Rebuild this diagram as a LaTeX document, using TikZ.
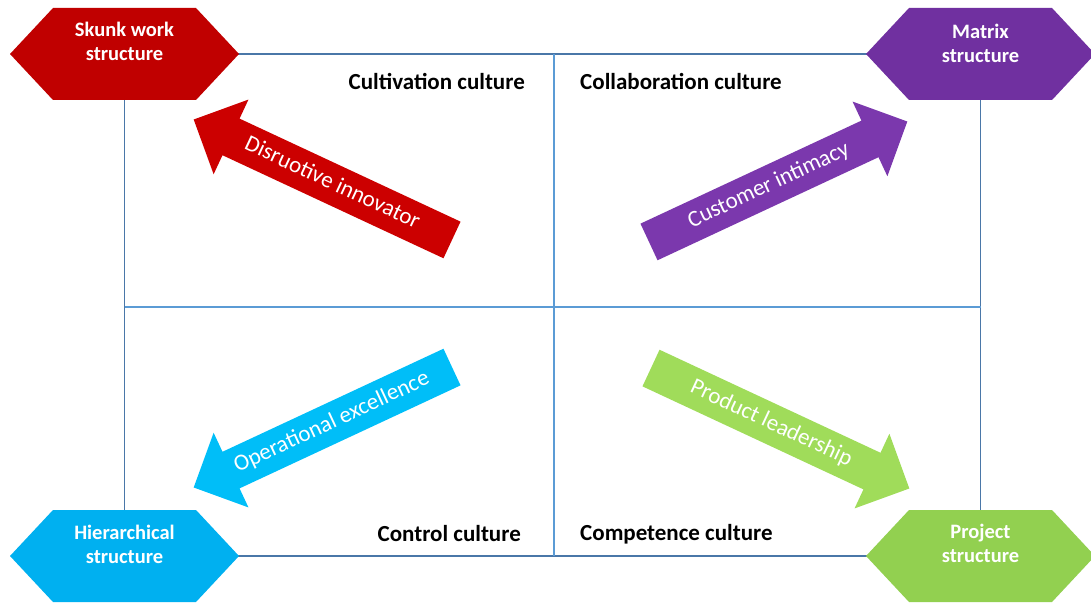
\documentclass[tikz,border=0pt]{standalone}
\usepackage{fontspec}
\setmainfont{Carlito}
\usetikzlibrary{shapes.arrows,backgrounds}
\definecolor{skunkred}{HTML}{C00000}
\definecolor{matrixpurple}{HTML}{7030A0}
\definecolor{hierblue}{HTML}{00B0F0}
\definecolor{projgreen}{HTML}{92D050}
\definecolor{redarrow}{HTML}{CC0000}
\definecolor{purplearrow}{HTML}{7B38AD}
\definecolor{bluearrow}{HTML}{00BEF8}
\definecolor{greenarrow}{HTML}{A0DC5A}
\definecolor{outerline}{HTML}{4A77A8}
\definecolor{innerline}{HTML}{5B9BD5}
\tikzset{
  hexlabel/.style={text=white,align=center,font=\bfseries\fontsize{20.5}{24}\selectfont},
  culture/.style={inner sep=0pt,font=\bfseries\fontsize{23}{26}\selectfont},
  fatarrow/.style={single arrow,fill=#1,text=white,font=\fontsize{23}{26}\selectfont,
    minimum height=285pt,single arrow head extend=21pt,
    text height=16pt,text depth=5pt,inner ysep=9.5pt,inner xsep=2pt},
}
\newcommand{\hexfill}[2]{\fill[#1] ([xshift=-114.5pt]#2) -- ++(43,46) -- ++(143,0)
  -- ++(43,-46) -- ++(-43,-46) -- ++(-143,0) -- cycle;}
\begin{document}
\begin{tikzpicture}[x=1pt,y=1pt]
\useasboundingbox (0,0) rectangle (1091,603);
% corners of the grid
\coordinate (skunk) at (124.5,549);
\coordinate (matrix) at (980.5,549);
\coordinate (hier) at (124.5,47);
\coordinate (project) at (980.5,47);
\coordinate (topmid) at (554,549);
\coordinate (botmid) at (554,47);
\coordinate (leftmid) at (124.5,296);
\coordinate (rightmid) at (980.5,296);
% grid
\draw[outerline,line width=1.3pt] (skunk) -- (matrix) -- (project) -- (hier) -- cycle;
\draw[innerline,line width=1.3pt] (topmid) -- (botmid);
\draw[innerline,line width=1.3pt] (leftmid) -- (rightmid);
% hexagons
\hexfill{skunkred}{skunk}
\hexfill{matrixpurple}{matrix}
\hexfill{hierblue}{hier}
\hexfill{projgreen}{project}
\node[hexlabel] (skunktxt) at ([yshift=13pt]skunk) {Skunk work\\structure};
\node[hexlabel] (matrixtxt) at ([yshift=11pt]matrix) {Matrix\\structure};
\node[hexlabel] (hiertxt) at ([yshift=12pt]hier) {Hierarchical\\structure};
\node[hexlabel] (projecttxt) at ([yshift=13pt]project) {Project\\structure};
% cultures
\node[culture,anchor=east] (cultivation) at (525,521) {Cultivation culture};
\node[culture,anchor=west] (collaboration) at (580,521) {Collaboration culture};
\node[culture,anchor=east] (control) at (521,69) {Control culture};
\node[culture,anchor=west] (competence) at (580,69) {Competence culture};
% strategies
\node[fatarrow=redarrow,shape border rotate=180,rotate=-25] (disrupt) at (332,419) {Disruotive innovator};
\node[fatarrow=purplearrow,rotate=25] (intimacy) at (769,417) {Customer intimacy};
\node[fatarrow=bluearrow,shape border rotate=180,rotate=25] (excellence) at (332,180) {Operational excellence};
\node[fatarrow=greenarrow,rotate=-25] (leadership) at (771,179) {Product leadership};
\end{tikzpicture}
\end{document}
